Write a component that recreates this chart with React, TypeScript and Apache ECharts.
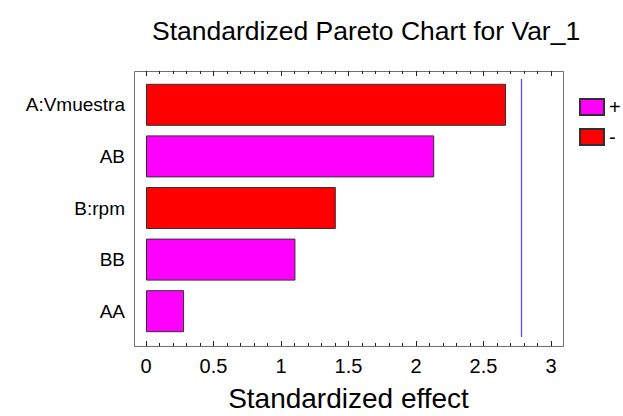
import React, { useEffect, useRef } from "react";
import * as echarts from "echarts";

const categories = ["A:Vmuestra", "AB", "B:rpm", "BB", "AA"];
const effects = [2.667, 2.135, 1.406, 1.107, 0.282];
const signs = ["-", "+", "-", "+", "+"];
const criticalValue = 2.776;
const xTicks = { min: 0, max: 3, interval: 0.5 };
const titleText = "Standardized Pareto Chart for Var_1";
const xAxisTitle = "Standardized effect";

const FONT = "'Liberation Sans', Arial, sans-serif";

export default function App() {
  const ref = useRef<HTMLDivElement>(null);
  useEffect(() => {
    if (!ref.current) return;
    const chart = echarts.init(ref.current, undefined, { renderer: "svg" });
    const plus = effects.map((v, i) => (signs[i] === "+" ? v : null));
    const minus = effects.map((v, i) => (signs[i] === "-" ? v : null));
    const tickCommon = {
      show: true,
      inside: true,
      length: 5,
      lineStyle: { color: "#222", width: 1 },
    };
    const minorCommon = {
      show: true,
      splitNumber: 5,
      length: 3,
      lineStyle: { color: "#222", width: 1 },
    };
    chart.setOption({
      animation: false,
      backgroundColor: "#fff",
      textStyle: { fontFamily: FONT },
      title: {
        text: titleText,
        left: 147,
        top: 12,
        textStyle: { fontSize: 26.5, fontWeight: "normal", color: "#000", fontFamily: FONT },
      },
      legend: {
        orient: "vertical",
        left: 574,
        top: 92,
        itemWidth: 24,
        itemHeight: 16,
        itemGap: 10,
        data: ["+", "-"],
        textStyle: { fontSize: 20, color: "#000", fontFamily: FONT },
        icon: "rect",
      },
      grid: {
        left: 146,
        right: 72,
        top: 79,
        bottom: 79,
        containLabel: false,
        outerBoundsMode: "none",
      },
      graphic: [
        {
          type: "rect",
          z: -1,
          shape: { x: 134.5, y: 71.5, width: 429, height: 275 },
          style: { fill: "none", stroke: "#707070", lineWidth: 1 },
        },
      ],
      xAxis: [
        {
          type: "value",
          position: "bottom",
          offset: 9,
          min: xTicks.min,
          max: xTicks.max,
          interval: xTicks.interval,
          axisLine: { show: false },
          axisTick: tickCommon,
          minorTick: minorCommon,
          splitLine: { show: false },
          axisLabel: {
            fontSize: 20,
            color: "#000",
            margin: 10,
            fontFamily: FONT,
          },
          name: xAxisTitle,
          nameLocation: "middle",
          nameGap: 37,
          nameTextStyle: { fontSize: 28, lineHeight: 30, color: "#000", fontFamily: FONT },
        },
        {
          type: "value",
          position: "top",
          offset: 8,
          min: xTicks.min,
          max: xTicks.max,
          interval: xTicks.interval,
          axisLine: { show: false },
          axisTick: tickCommon,
          minorTick: minorCommon,
          splitLine: { show: false },
          axisLabel: { show: false },
        },
      ],
      yAxis: {
        type: "category",
        data: categories,
        inverse: true,
        axisLine: { show: false },
        axisTick: { show: false },
        axisLabel: { fontSize: 19, color: "#000", margin: 21, fontFamily: FONT },
      },
      series: [
        {
          name: "+",
          type: "bar",
          stack: "effect",
          barWidth: 42,
          data: plus,
          itemStyle: { color: "#ff00ff", borderColor: "#303030", borderWidth: 1 },
        },
        {
          name: "-",
          type: "bar",
          stack: "effect",
          barWidth: 42,
          data: minus,
          itemStyle: { color: "#ff0000", borderColor: "#303030", borderWidth: 1 },
        },
        {
          name: "critical",
          type: "line",
          data: [],
          markLine: {
            silent: true,
            symbol: ["none", "none"],
            label: { show: false },
            lineStyle: { color: "#5050ff", width: 1.3, type: "solid" },
            emphasis: { disabled: true },
            data: [{ xAxis: criticalValue }],
          },
        },
      ],
    });
    return () => chart.dispose();
  }, []);
  return (
    <div
      ref={ref}
      style={{ position: "fixed", left: 0, top: 0, width: 623, height: 416 }}
    />
  );
}
